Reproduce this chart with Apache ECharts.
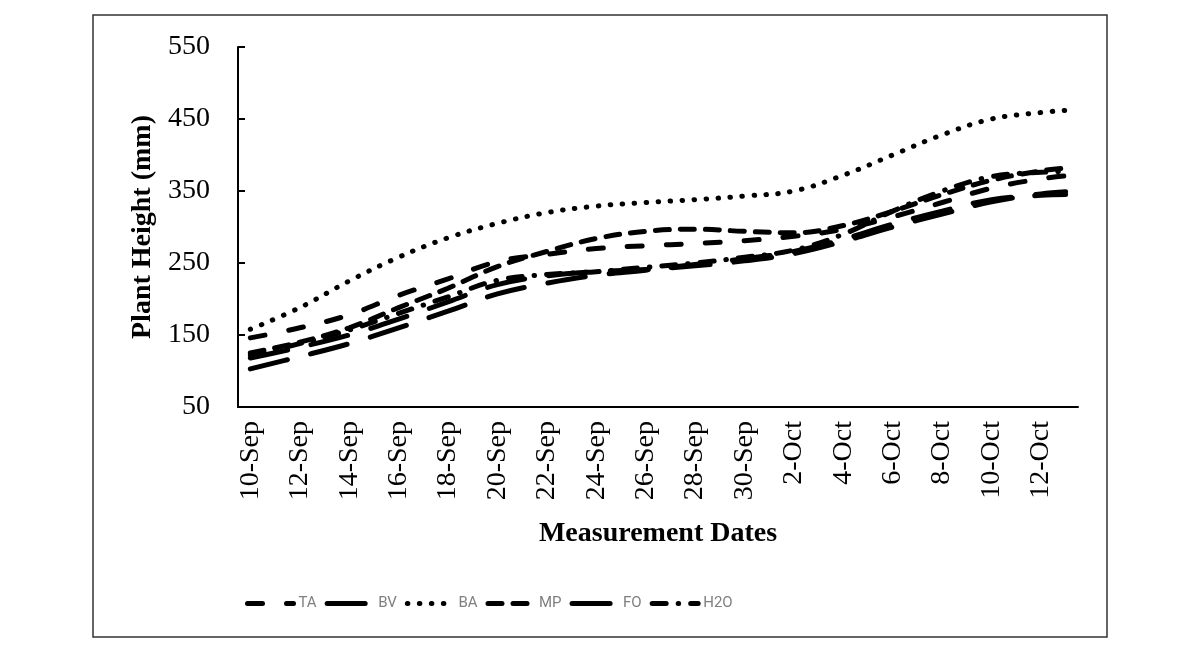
<!DOCTYPE html>
<html>
<head>
<meta charset="utf-8">
<script src="https://cdn.jsdelivr.net/npm/echarts@6/dist/echarts.min.js"></script>
<style>
  html, body { margin: 0; padding: 0; background: #fff; }
  #chart { width: 1201px; height: 651px; }
</style>
</head>
<body>
<div id="chart"></div>
<script>
// measurement dates (one category per day)
const dates = ['10-Sep','11-Sep','12-Sep','13-Sep','14-Sep','15-Sep','16-Sep','17-Sep','18-Sep','19-Sep',
  '20-Sep','21-Sep','22-Sep','23-Sep','24-Sep','25-Sep','26-Sep','27-Sep','28-Sep','29-Sep','30-Sep',
  '1-Oct','2-Oct','3-Oct','4-Oct','5-Oct','6-Oct','7-Oct','8-Oct','9-Oct','10-Oct','11-Oct','12-Oct','13-Oct']

// plant height (mm), read every two days, null = not measured
const TA  = [146,null,160,null,178,null,205,null,228,null,252,null,262,null,270,null,274,null,277,null,281,null,287,null,297,null,314,null,334,null,354,null,367,371]
const BV  = [118,null,133,null,150,null,172,null,196,null,220,null,232,null,238,null,241,null,246,null,253,null,263,null,280,null,300,null,318,null,335,null,346,349]
const BA  = [158,null,188,null,225,null,258,null,285,null,305,null,320,null,329,null,334,null,338,null,343,null,350,null,372,null,400,null,428,null,450,null,459,462]
const MP  = [125,null,140,null,160,null,188,null,215,null,245,null,266,null,284,null,294,null,297,null,294,null,292,null,302,null,322,null,345,null,365,null,378,382]
const FO  = [103,null,120,null,138,null,160,null,183,null,207,null,222,null,233,null,240,null,248,null,256,null,266,null,283,null,304,null,322,null,338,null,344,345]
const H2O = [122,null,138,null,157,null,180,null,203,null,226,null,234,null,238,null,244,null,250,null,258,null,268,null,290,null,322,null,350,null,370,null,376,377]

const serif = '"Liberation Serif", "Times New Roman", serif'

function mkSeries(name, data, dash) {
  return {
    name: name,
    type: 'line',
    data: data,
    smooth: 0.4,
    connectNulls: true,
    symbol: 'none',
    color: '#000',
    lineStyle: { color: '#000', width: 5, type: dash, cap: 'round' }
  }
}

const chart = echarts.init(document.getElementById('chart'))
chart.setOption({
  backgroundColor: '#fff',
  animation: false,
  graphic: [{
    type: 'rect',
    shape: { x: 93, y: 15, width: 1014, height: 622 },
    style: { fill: 'none', stroke: '#333', lineWidth: 1.5 },
    silent: true
  }],
  grid: { left: 238, right: 123, top: 47, bottom: 244 },
  legend: {
    left: 240,
    top: 591,
    itemWidth: 46,
    itemHeight: 14,
    itemGap: 8,
    itemStyle: { opacity: 0 },
    lineStyle: { width: 5, color: '#000', cap: 'round' },
    textStyle: { color: '#7f7f7f', fontSize: 15, fontFamily: 'Roboto, sans-serif', width: 24 },
    data: ['TA','BV','BA','MP','FO','H2O']
  },
  xAxis: {
    type: 'category',
    data: dates,
    boundaryGap: true,
    name: 'Measurement Dates',
    nameLocation: 'middle',
    nameGap: 113,
    nameTextStyle: { fontFamily: serif, fontWeight: 'bold', fontSize: 28, color: '#000' },
    axisLine: { lineStyle: { color: '#000', width: 2 } },
    axisTick: { interval: 1, length: 7, lineStyle: { color: '#000', width: 2 } },
    axisLabel: { interval: 1, rotate: 90, margin: 14, fontFamily: serif, fontSize: 28, color: '#000' },
    splitLine: { show: false }
  },
  yAxis: {
    type: 'value',
    min: 50,
    max: 550,
    interval: 100,
    name: 'Plant Height (mm)',
    nameLocation: 'middle',
    nameGap: 76,
    nameTextStyle: { fontFamily: serif, fontWeight: 'bold', fontSize: 28, color: '#000' },
    axisLine: { show: true, lineStyle: { color: '#000', width: 2 } },
    axisTick: { show: true, inside: true, length: 7, lineStyle: { color: '#000', width: 2 } },
    axisLabel: { margin: 28, fontFamily: serif, fontSize: 28, color: '#000' },
    splitLine: { show: false }
  },
  series: [
    mkSeries('TA', TA, [15, 24]),
    mkSeries('BV', BV, [38, 24]),
    mkSeries('BA', BA, [0.5, 11.5]),
    mkSeries('MP', MP, [14, 11]),
    mkSeries('FO', FO, [38, 24]),
    mkSeries('H2O', H2O, [14, 12, 0.5, 12])
  ]
})
</script>
</body>
</html>
